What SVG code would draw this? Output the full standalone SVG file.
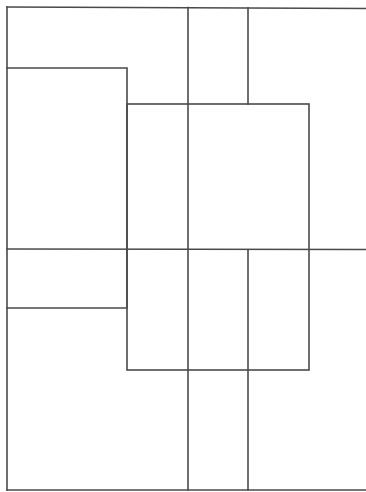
<svg xmlns="http://www.w3.org/2000/svg" width="366" height="492" viewBox="0 0 366 492">
<style>
.l{stroke:#4a4a4a;stroke-width:1.6;fill:none;stroke-linecap:square}
</style>
<rect width="366" height="492" fill="#fff"/>
<g id="outer" class="l">
<line x1="7" y1="7" x2="366" y2="8.5"/>
<line x1="7" y1="7" x2="7" y2="490"/>
<line x1="7" y1="490" x2="366" y2="490"/>
<line x1="7" y1="249" x2="366" y2="249.5"/>
</g>
<g id="verticals" class="l">
<line x1="188" y1="7.5" x2="188" y2="490"/>
<line x1="248" y1="8" x2="248" y2="104"/>
<line x1="248" y1="250" x2="248" y2="490"/>
</g>
<g id="left-box" class="l">
<polyline points="7,68 127,68 127,308 7,308"/>
</g>
<g id="center-box" class="l">
<rect x="127" y="104" width="182" height="266"/>
</g>
</svg>
